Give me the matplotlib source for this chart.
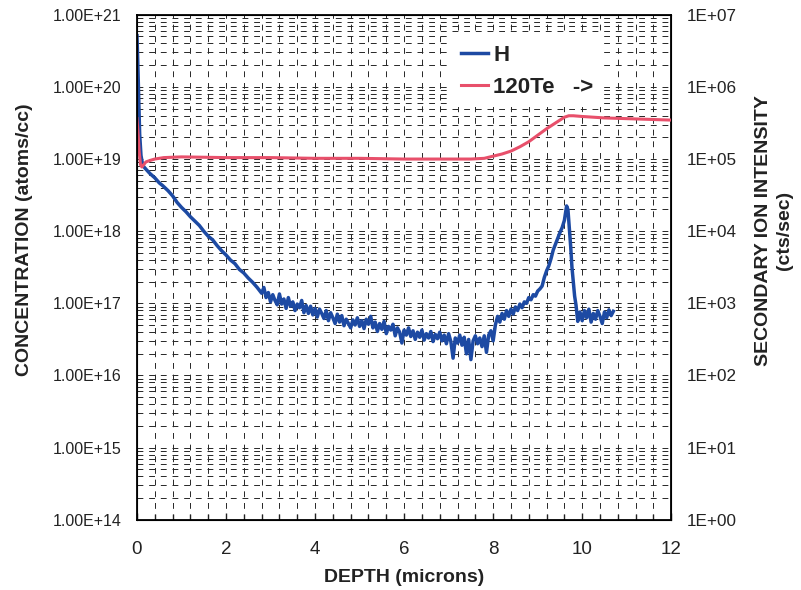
import numpy as np
import matplotlib
matplotlib.use("Agg")
import matplotlib.pyplot as plt
from matplotlib.ticker import FixedLocator, FuncFormatter, LogLocator, NullFormatter

plt.rcParams["font.family"] = ["Liberation Sans", "DejaVu Sans"]

# H profile (depth in microns, log10 of atoms/cc)
h_depth = [
    0.00, 0.02, 0.04, 0.06, 0.09, 0.13, 0.20, 0.29, 0.40, 0.50, 0.58, 0.70,
    0.80, 0.90, 1.00, 1.10, 1.20, 1.30, 1.40, 1.50, 1.60, 1.70, 1.80, 1.90,
    2.00, 2.10, 2.20, 2.30, 2.40, 2.50, 2.60, 2.70, 2.80, 2.85, 2.90, 2.95,
    3.00, 3.05, 3.10, 3.15, 3.20, 3.25, 3.30, 3.35, 3.40, 3.45, 3.50, 3.55,
    3.60, 3.65, 3.70, 3.75, 3.80, 3.85, 3.90, 3.95, 4.00, 4.05, 4.10, 4.15,
    4.20, 4.25, 4.30, 4.35, 4.40, 4.45, 4.50, 4.55, 4.60, 4.65, 4.70, 4.75,
    4.80, 4.85, 4.90, 4.95, 5.00, 5.05, 5.10, 5.15, 5.20, 5.25, 5.30, 5.35,
    5.40, 5.45, 5.50, 5.55, 5.60, 5.65, 5.70, 5.75, 5.80, 5.85, 5.90, 5.95,
    6.00, 6.05, 6.10, 6.15, 6.20, 6.25, 6.30, 6.35, 6.40, 6.45, 6.50, 6.55,
    6.60, 6.65, 6.70, 6.75, 6.80, 6.85, 6.90, 6.95, 7.00, 7.05, 7.10, 7.15,
    7.20, 7.25, 7.30, 7.35, 7.40, 7.45, 7.50, 7.55, 7.60, 7.65, 7.70, 7.75,
    7.80, 7.85, 7.90, 7.95, 8.00, 8.05, 8.10, 8.15, 8.20, 8.25, 8.30, 8.35,
    8.40, 8.45, 8.50, 8.55, 8.60, 8.65, 8.70, 8.75, 8.80, 8.85, 8.90, 8.95,
    9.00, 9.05, 9.10, 9.15, 9.20, 9.25, 9.30, 9.35, 9.40, 9.45, 9.50, 9.55,
    9.60, 9.65, 9.68, 9.71, 9.74, 9.77, 9.80, 9.83, 9.86, 9.90, 9.95, 10.00,
    10.05, 10.10, 10.15, 10.20, 10.25, 10.30, 10.35, 10.40, 10.45, 10.50,
    10.55, 10.60, 10.65, 10.70,
]
h_log = [
    20.71, 20.30, 19.80, 19.35, 19.05, 18.91, 18.86, 18.80, 18.74, 18.67, 18.63, 18.56,
    18.49, 18.40, 18.33, 18.27, 18.20, 18.14, 18.08, 18.00, 17.93, 17.88, 17.80, 17.73,
    17.67, 17.60, 17.55, 17.47, 17.42, 17.35, 17.29, 17.22, 17.14, 17.22, 17.08, 17.15,
    17.02, 17.12, 17.04, 16.98, 17.13, 16.99, 17.06, 16.93, 17.08, 16.96, 17.02, 16.90,
    16.99, 16.94, 17.04, 16.87, 16.97, 16.86, 16.96, 16.84, 16.93, 16.81, 16.92, 16.86,
    16.79, 16.90, 16.76, 16.87, 16.80, 16.72, 16.85, 16.74, 16.83, 16.69, 16.78, 16.72,
    16.66, 16.77, 16.70, 16.80, 16.68, 16.76, 16.65, 16.78, 16.71, 16.82, 16.66, 16.74,
    16.61, 16.72, 16.64, 16.75, 16.58, 16.68, 16.63, 16.71, 16.55, 16.66, 16.60, 16.45,
    16.63, 16.56, 16.66, 16.54, 16.62, 16.50, 16.60, 16.53, 16.63, 16.49, 16.58, 16.52,
    16.61, 16.47, 16.57, 16.51, 16.60, 16.48, 16.56, 16.44, 16.58, 16.47, 16.24, 16.52,
    16.45, 16.56, 16.42, 16.53, 16.30, 16.50, 16.22, 16.48, 16.55, 16.44, 16.52, 16.40,
    16.55, 16.32, 16.56, 16.62, 16.48, 16.70, 16.82, 16.74, 16.86, 16.78, 16.90, 16.82,
    16.92, 16.85, 16.95, 16.90, 16.99, 16.94, 17.02, 17.00, 17.08, 17.05, 17.12, 17.10,
    17.17, 17.20, 17.24, 17.36, 17.45, 17.52, 17.62, 17.74, 17.82, 17.90, 17.98, 18.05,
    18.15, 18.35, 18.30, 18.05, 17.80, 17.50, 17.30, 17.10, 16.98, 16.75, 16.88, 16.76,
    16.90, 16.80, 16.92, 16.74, 16.86, 16.78, 16.90, 16.82, 16.72, 16.88,
    16.80, 16.91, 16.83, 16.89,
]

# 120Te secondary ion intensity (log10 of cts/sec)
te_depth = [0.00, 0.02, 0.05, 0.08, 0.11, 0.15, 0.20, 0.29, 0.40, 0.60, 1.00, 2.00,
            3.00, 4.00, 5.00, 6.00, 7.00, 7.50, 7.80, 8.00, 8.20, 8.40, 8.60, 8.80,
            9.00, 9.20, 9.40, 9.60, 9.70, 9.80, 10.00, 10.50, 11.00, 11.50, 12.00]
te_log = [5.56, 5.40, 5.10, 4.92, 4.89, 4.92, 4.96, 4.98, 5.00, 5.02, 5.03, 5.02,
          5.02, 5.01, 5.01, 5.00, 5.00, 5.00, 5.01, 5.04, 5.07, 5.11, 5.17, 5.24,
          5.33, 5.42, 5.50, 5.58, 5.60, 5.60, 5.59, 5.57, 5.56, 5.55, 5.54]

left_ticks = [1e14, 1e15, 1e16, 1e17, 1e18, 1e19, 1e20, 1e21]
right_ticks = [1e0, 1e1, 1e2, 1e3, 1e4, 1e5, 1e6, 1e7]
x_ticks = [0, 2, 4, 6, 8, 10, 12]

BLUE = "#1d4aa3"
RED = "#e8506b"
GRID = (0.15, 0.15, 0.15)
TEXT = "#222222"

fig = plt.figure(figsize=(8.01, 5.90), dpi=100)
ax = fig.add_axes([0.171, 0.119, 0.667, 0.856])

ax.set_xlim(0, 12)
ax.set_yscale("log")
ax.set_ylim(1e14, 1e21)
ax.xaxis.set_major_locator(FixedLocator(x_ticks))
ax.xaxis.set_minor_locator(FixedLocator(np.arange(0, 12.01, 0.4)))
ax.yaxis.set_major_locator(FixedLocator(left_ticks))
ax.yaxis.set_minor_locator(LogLocator(base=10, subs=np.arange(2, 10), numticks=20))
ax.yaxis.set_minor_formatter(NullFormatter())
ax.yaxis.set_major_formatter(FuncFormatter(lambda v, p: "1.00E+%d" % round(np.log10(v))))

ax.grid(which="both", axis="both", color=GRID, linestyle=(0, (6, 6)), linewidth=0.7)
ax.set_axisbelow(True)

ax.tick_params(which="both", direction="in", width=1, colors=TEXT)
ax.tick_params(axis="x", which="major", length=5, labelsize=13.5, pad=15)
ax.tick_params(axis="x", which="minor", length=4)
ax.tick_params(axis="y", which="both", length=0, pad=11, labelsize=11.5)
for s in ax.spines.values():
    s.set_linewidth(1.3)

h_line, = ax.plot(h_depth, [10 ** v for v in h_log], color=BLUE, lw=2.5, label="H")

ax.set_xlabel("DEPTH (microns)", fontsize=14, fontweight="bold", labelpad=8, color=TEXT)

ax2 = ax.twinx()
ax2.set_yscale("log")
ax2.set_ylim(1e0, 1e7)
ax2.yaxis.set_major_locator(FixedLocator(right_ticks))
ax2.yaxis.set_minor_formatter(NullFormatter())
ax2.yaxis.set_major_formatter(FuncFormatter(lambda v, p: "1E+%02d" % round(np.log10(v))))
ax2.tick_params(axis="y", which="both", length=0, labelsize=12.3, pad=11, colors=TEXT)

te_line, = ax2.plot(te_depth, [10 ** v for v in te_log], color=RED, lw=2.2, label="120Te   ->")

fig.text(0.031, 0.593, "CONCENTRATION (atoms/cc)", rotation=90, ha="center", va="center",
         fontsize=14, fontweight="bold", color=TEXT)
fig.text(0.966, 0.610, "SECONDARY ION INTENSITY\n(cts/sec)", rotation=90, ha="center",
         va="center", multialignment="center", linespacing=1.3,
         fontsize=14, fontweight="bold", color=TEXT)

leg = ax2.legend(handles=[h_line, te_line], loc="upper left", bbox_to_anchor=(0.569, 0.98),
                 frameon=True, framealpha=1, edgecolor="none", facecolor="white",
                 fancybox=False, handlelength=1.2, handletextpad=0.25,
                 prop={"weight": "bold", "size": 16}, labelspacing=0.5)
for t in leg.get_texts():
    t.set_color(TEXT)

fig.savefig("out.png", dpi=100)
